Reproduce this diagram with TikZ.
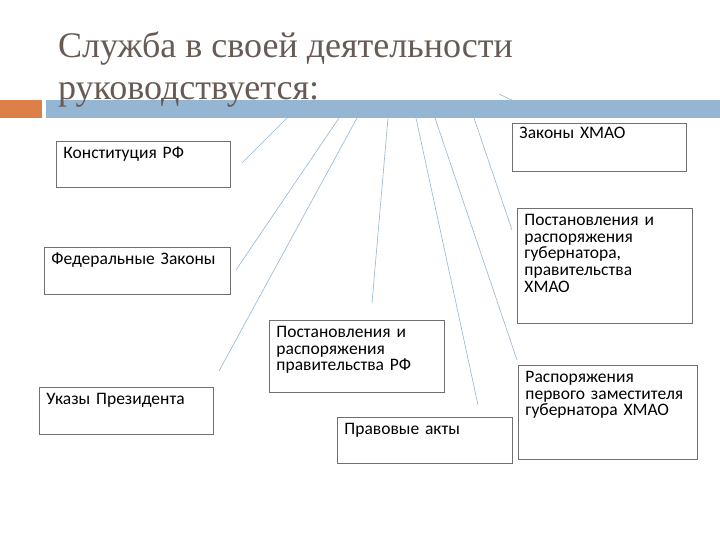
\documentclass[tikz,border=0pt]{standalone}
\usepackage{fontspec}
\setmainfont{Carlito}
\newfontfamily\titlefont{Liberation Serif}
\usetikzlibrary{positioning,calc}

\definecolor{titlegray}{RGB}{104,90,84}
\definecolor{barblue}{RGB}{148,182,210}
\definecolor{barorange}{RGB}{221,128,71}
\definecolor{boxgray}{RGB}{112,112,112}

\begin{document}
\begin{tikzpicture}[
  x=1pt, y=-1pt,
  doc/.style={rectangle, draw=boxgray, line width=0.9pt, anchor=north west,
              align=left, font=\fontsize{17.5}{16.7}\selectfont,
              inner xsep=7pt, inner ysep=0pt, text height=17pt},
  link/.style={draw=barblue, line width=0.6pt},
  heading/.style={anchor=base west, align=left, text=titlegray, inner sep=0pt,
                  font=\titlefont\fontsize{36}{42}\selectfont},
]
  \useasboundingbox[fill=white] (0,0) rectangle (720,540);

  % short stroke hidden under the bar
  \coordinate (s8) at (499,94);
  \coordinate (e8) at (518,103);
  \draw[link] (s8) -- (e8);

  % title bar
  \fill[barorange] (0,100) rectangle (42,118);
  \fill[barblue] (46,100) rectangle (720,118);

  % title
  \node[heading] (title) at (58,100) {Служба в своей деятельности\\руководствуется:};

  % documents
  \node[doc, text width=160pt, text depth=29pt] (konst) at (56,141) {Конституция РФ};
  \node[doc, text width=172pt, text depth=30pt] (fedzak) at (44,247) {Федеральные Законы};
  \node[doc, text width=160pt, text depth=30pt] (ukaz) at (39,387) {Указы Президента};
  \node[doc, text width=161pt, text depth=55pt] (postrf) at (269,320)
       {Постановления и\\распоряжения\\правительства РФ};
  \node[doc, text width=161pt, text depth=29pt] (pravakt) at (337,417) {Правовые акты};
  \node[doc, text width=160pt, text depth=33pt, text height=15pt] (zakhmao) at (512,123)
       {Законы ХМАО};
  \node[doc, text width=161pt, text depth=98pt] (postgub) at (517,208)
       {Постановления и\\распоряжения\\губернатора,\\правительства\\ХМАО};
  \node[doc, text width=165pt, text depth=77pt] (rasp) at (518,365)
       {Распоряжения\\первого заместителя\\губернатора ХМАО};

  % strokes from the bar
  \coordinate (s1) at (287,118);  \coordinate (e1) at (242,163);
  \coordinate (s2) at (339,118);  \coordinate (e2) at (236,270);
  \coordinate (s3) at (357,118);  \coordinate (e3) at (219,371);
  \coordinate (s4) at (388,118);  \coordinate (e4) at (372,303);
  \coordinate (s5) at (416,118);  \coordinate (e5) at (478,405);
  \coordinate (s6) at (435,118);  \coordinate (e6) at (517,360);
  \coordinate (s7) at (474,118);  \coordinate (e7) at (512,230);
  \foreach \i in {1,...,7}
    \draw[link] (s\i) -- (e\i);
\end{tikzpicture}
\end{document}
